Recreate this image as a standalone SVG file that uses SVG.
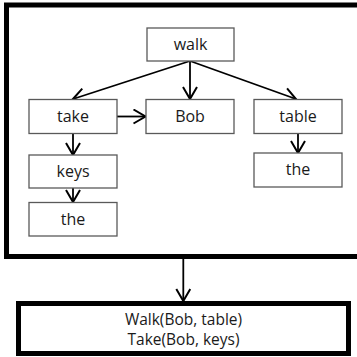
<svg xmlns="http://www.w3.org/2000/svg" width="357" height="357" viewBox="0 0 357 357">
  <style>
    .node rect { fill: #ffffff; stroke: #595959; stroke-width: 1.3; }
    .node text, .result text { font-family: "Open Sans", "Liberation Sans", sans-serif; font-size: 16px; fill: #1a1a1a; text-anchor: middle; }
    .result text { font-size: 15.5px; }
    .frame { fill: none; stroke: #000000; stroke-width: 5; }
    .edge { fill: none; stroke: #000000; stroke-width: 1.8; marker-end: url(#head); }
  </style>
  <defs>
    <marker id="head" markerUnits="userSpaceOnUse" markerWidth="16" markerHeight="18" refX="13" refY="8" orient="auto">
      <path d="M1,1 L13,8 L1,15" fill="none" stroke="#000000" stroke-width="2"/>
    </marker>
  </defs>
  <rect width="357" height="357" fill="#ffffff"/>

  <!-- outer frame holding the tree -->
  <rect id="tree-frame" class="frame" x="6.5" y="5" width="360" height="251.5"/>

  <g id="connectors">
    <line class="edge" x1="190" y1="61" x2="73" y2="99"/>
    <line class="edge" x1="190" y1="61" x2="190" y2="99"/>
    <line class="edge" x1="190" y1="61" x2="296" y2="99"/>
    <line class="edge" x1="117" y1="116.5" x2="145.5" y2="116.5"/>
    <line class="edge" x1="73" y1="133" x2="73" y2="155"/>
    <line class="edge" x1="73" y1="188" x2="73" y2="202"/>
    <line class="edge" x1="298" y1="133" x2="298" y2="153"/>
    <line class="edge" x1="183.3" y1="259" x2="183.3" y2="301"/>
  </g>

  <g id="walk" class="node">
    <rect x="147" y="28" width="87" height="33"/>
    <text x="190.5" y="50">walk</text>
  </g>
  <g id="take" class="node">
    <rect x="29" y="99.5" width="88" height="34"/>
    <text x="73" y="122">take</text>
  </g>
  <g id="bob" class="node">
    <rect x="146" y="99.5" width="88" height="34"/>
    <text x="190" y="122">Bob</text>
  </g>
  <g id="table" class="node">
    <rect x="254" y="99.5" width="88" height="34"/>
    <text x="298" y="122">table</text>
  </g>
  <g id="keys" class="node">
    <rect x="29" y="155" width="88" height="33"/>
    <text x="73" y="177">keys</text>
  </g>
  <g id="the-right" class="node">
    <rect x="254" y="153" width="88" height="34"/>
    <text x="298" y="175">the</text>
  </g>
  <g id="the-left" class="node">
    <rect x="29" y="202.5" width="88" height="33.5"/>
    <text x="73" y="224.5">the</text>
  </g>

  <g id="result" class="result">
    <rect class="frame" x="18.5" y="303.5" width="330" height="50"/>
    <text x="183.5" y="325">Walk(Bob, table)</text>
    <text x="183.5" y="345">Take(Bob, keys)</text>
  </g>
</svg>
